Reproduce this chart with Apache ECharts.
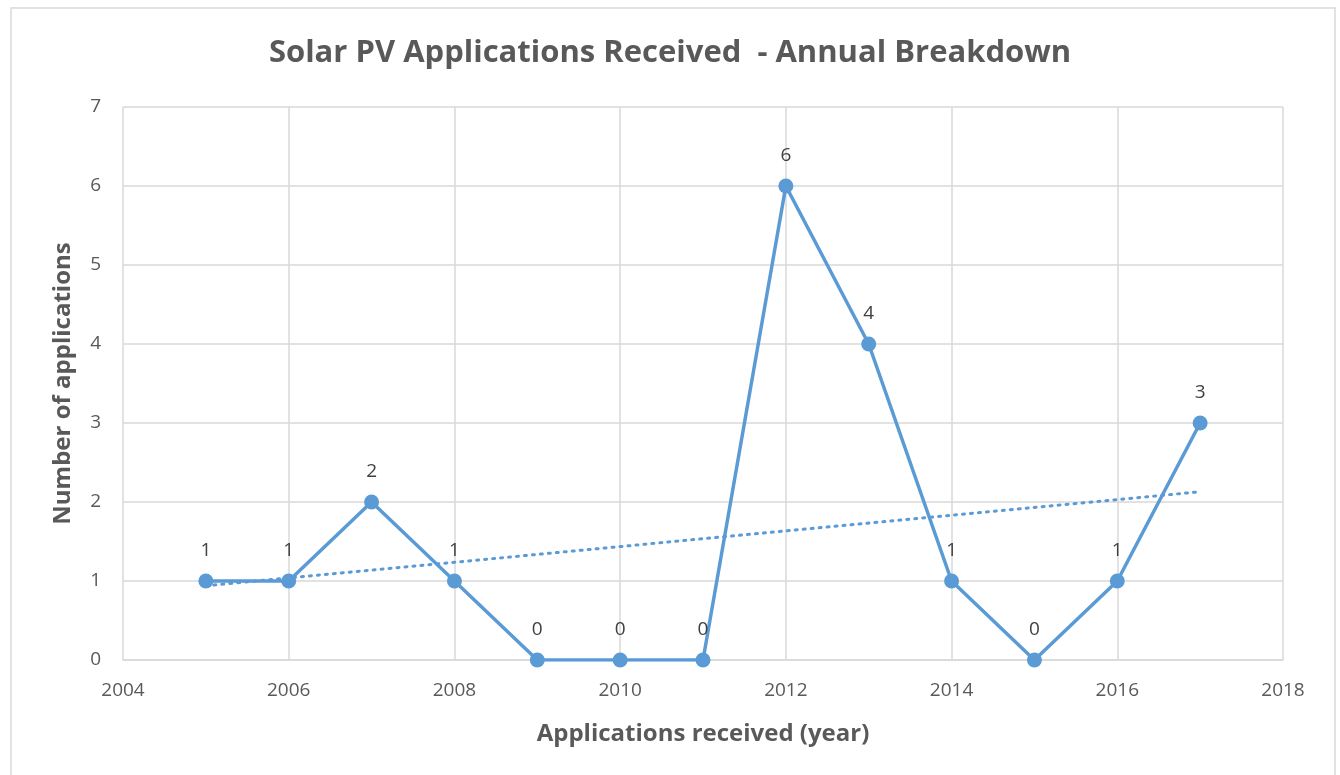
<!DOCTYPE html>
<html>
<head>
<meta charset="utf-8">
<script src="https://cdn.jsdelivr.net/npm/echarts@6/dist/echarts.min.js"></script>
<style>
  html, body { margin: 0; padding: 0; background: #fff; }
  #chart { width: 1340px; height: 775px; }
</style>
</head>
<body>
<div id="chart"></div>
<script>
// data
const years = [2005, 2006, 2007, 2008, 2009, 2010, 2011, 2012, 2013, 2014, 2015, 2016, 2017]
const applications = [1, 1, 2, 1, 0, 0, 0, 6, 4, 1, 0, 1, 3]
// linear trendline endpoints, as drawn
const trendYears = [2005, 2017]
const trendValues = [0.94, 2.13]

const textColor = '#595959'
const lineColor = '#5b9bd5'
const gridColor = '#d9d9d9'
const font = '"Open Sans", "Noto Sans", sans-serif'

const chart = echarts.init(document.getElementById('chart'))

const option = {
  animation: false,
  title: {
    text: 'Solar PV Applications Received  - Annual Breakdown',
    left: 'center',
    top: 33,
    textStyle: { fontFamily: font, fontSize: 31, fontWeight: 'bold', color: textColor }
  },
  graphic: [{
    type: 'rect',
    shape: { x: 11, y: 8, width: 1324, height: 800 },
    style: { fill: 'none', stroke: gridColor, lineWidth: 1.5 },
    silent: true
  }],
  grid: { left: 123, right: 57, top: 107, bottom: 115 },
  xAxis: {
    type: 'value',
    min: 2004,
    max: 2018,
    interval: 2,
    name: 'Applications received (year)',
    nameLocation: 'middle',
    nameGap: 62,
    nameTextStyle: { fontFamily: font, fontSize: 24, fontWeight: 'bold', color: textColor },
    axisLine: { show: true, lineStyle: { color: gridColor, width: 1.5 } },
    axisTick: { show: false },
    axisLabel: { fontFamily: font, fontSize: 19, color: textColor, margin: 21, formatter: v => String(v) },
    splitLine: { show: true, lineStyle: { color: gridColor, width: 1.5 } }
  },
  yAxis: {
    type: 'value',
    min: 0,
    max: 7,
    interval: 1,
    name: 'Number of applications',
    nameLocation: 'middle',
    nameGap: 48,
    nameTextStyle: { fontFamily: font, fontSize: 24, fontWeight: 'bold', color: textColor },
    axisLine: { show: false },
    axisTick: { show: false },
    axisLabel: { fontFamily: font, fontSize: 19, color: textColor, margin: 22 },
    splitLine: { show: true, lineStyle: { color: gridColor, width: 1.5 } }
  },
  series: [
    {
      name: 'Applications',
      type: 'line',
      data: years.map((y, i) => [y, applications[i]]),
      symbol: 'circle',
      symbolSize: 15,
      lineStyle: { color: lineColor, width: 3.5 },
      itemStyle: { color: lineColor },
      label: {
        show: true,
        position: 'top',
        distance: 13,
        fontFamily: font,
        fontSize: 19,
        color: '#404040',
        formatter: p => p.value[1]
      },
      z: 3
    },
    {
      name: 'Trend',
      type: 'line',
      data: trendYears.map((y, i) => [y, trendValues[i]]),
      symbol: 'none',
      lineStyle: { color: lineColor, width: 3, type: [2, 6], cap: 'round' },
      z: 2
    }
  ]
}

chart.setOption(option)
</script>
</body>
</html>
